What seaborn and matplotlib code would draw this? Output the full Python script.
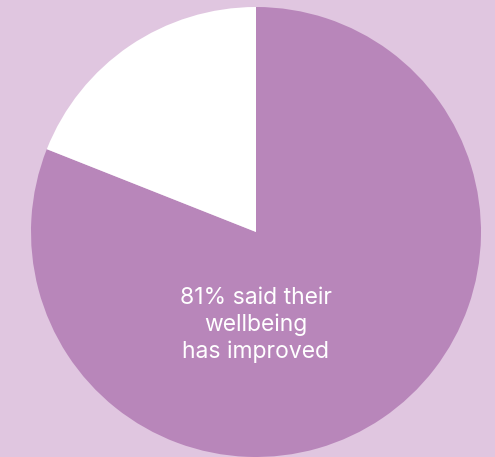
import matplotlib
matplotlib.use("Agg")
import matplotlib.pyplot as plt
import seaborn as sns

labels = ["Improved", "Not improved"]
values = [81, 19]
colors = ["#B886BA", "#FFFFFF"]
annotation = "81% said their\nwellbeing\nhas improved"
bg = "#E0C6E0"

sns.set_theme(style="white")
plt.rcParams['font.family'] = ['Inter', 'DejaVu Sans']

W, H = 495, 457
fig = plt.figure(figsize=(W / 100, H / 100), dpi=100, facecolor=bg)
cx, cy, r = 256, 232, 225
ax = fig.add_axes([(cx - r) / W, (H - cy - r) / H, 2 * r / W, 2 * r / H])
ax.set_facecolor(bg)
ax.pie(values, colors=colors, startangle=90, counterclock=False, radius=1,
       wedgeprops=dict(linewidth=0))
ax.set_xlim(-1, 1)
ax.set_ylim(-1, 1)
ax.set_aspect("equal")
ax.axis("off")
ax.text(0, -(325 - cy) / r, annotation, ha="center", va="center", color="white",
        fontsize=16.5, linespacing=1.28)
fig.savefig("out.png", dpi=100, facecolor=bg)
